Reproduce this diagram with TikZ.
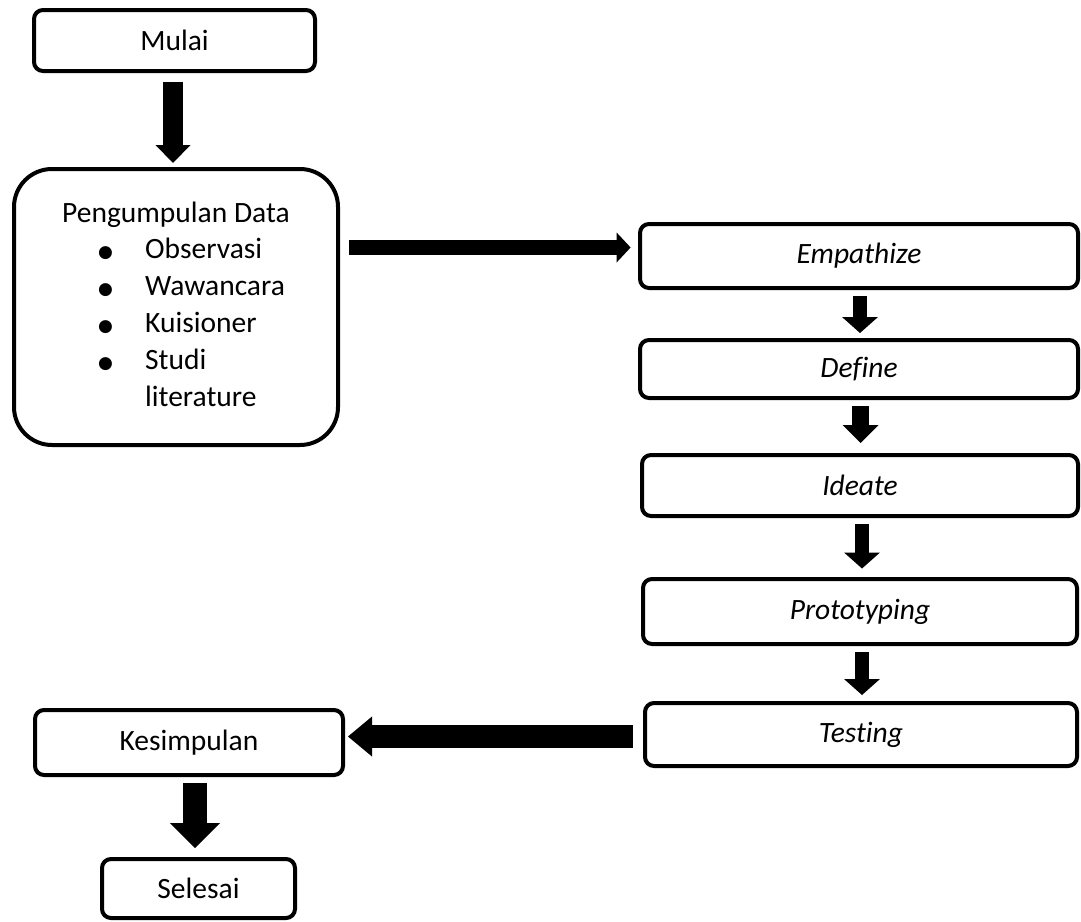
\documentclass[tikz,border=0pt]{standalone}
\usepackage{fontspec}
\setmainfont[Ligatures=NoCommon]{Carlito}
\newfontfamily\dejavu{DejaVu Sans}
\usetikzlibrary{arrows.meta,calc}
\newcommand{\blt}{\makebox[83pt][l]{\hspace{36pt}\raisebox{1.5pt}{\dejavu\fontsize{17}{17}\selectfont ●}}}
\begin{document}
\begin{tikzpicture}[x=1pt,y=-1pt,
  box/.style={draw, line width=4pt, rounded corners=9pt, inner sep=0pt, font=\fontsize{29.5}{34}\selectfont},
  ibox/.style={box, font=\fontsize{29.5}{34}\selectfont\itshape},
  blk/.style n args={3}{line width=#1, -{Triangle[width=#2, length=#3, line width=0pt]}}]
\useasboundingbox (0,0) rectangle (1081,921);
% left column
\node[box, minimum width=281pt, minimum height=61pt] (mulai) at (174.5,40.5) {Mulai};
\node[box, rounded corners=38pt, minimum width=324pt, minimum height=276pt] (peng) at (176,307) {};
\node[anchor=base west, inner sep=0pt, font=\fontsize{29.5}{36.9}\selectfont] (pengtxt) at (62,222)
  {\begin{tabular}[t]{@{}l@{}l@{}}
   \multicolumn{2}{@{}l@{}}{Pengumpulan Data}\\
   \blt & Observasi\\
   \blt & Wawancara\\
   \blt & Kuisioner\\
   \blt & Studi\\
        & literature
   \end{tabular}};
% right column
\node[ibox, minimum width=438pt, minimum height=64pt] (emp) at (859,256) {Empathize};
\node[ibox, minimum width=438pt, minimum height=58pt] (def) at (859,369) {Define};
\node[ibox, minimum width=436pt, minimum height=61pt] (ide) at (860,485.5) {Ideate};
\node[ibox, minimum width=434pt, minimum height=65pt] (pro) at (860,611.5) {Prototyping};
\node[ibox, minimum width=432pt, minimum height=63pt] (tes) at (861,734.5) {Testing};
% bottom left
\node[box, minimum width=308pt, minimum height=65pt] (kes) at (189,742.5) {Kesimpulan};
\node[box, minimum width=193pt, minimum height=59pt] (sel) at (198.5,888.5) {Selesai};
% arrows
\draw[blk={20pt}{35pt}{18pt}] ($(mulai.south)+(-1.5,9)$) -- ($(peng.north)+(-3,-4)$);
\draw[blk={15pt}{30pt}{14pt}] ($(peng.east)+(8.5,-59.5)$) -- ($(emp.west)+(-7.4,-8.5)$);
\draw[blk={14pt}{36pt}{16pt}] ($(emp.south)+(1,6)$) -- ($(def.north)+(1,-5)$);
\draw[blk={17pt}{36pt}{18pt}] ($(def.south)+(1.5,6)$) -- ($(ide.north)+(0.5,-10)$);
\draw[blk={14pt}{36pt}{16pt}] ($(ide.south)+(2,5.5)$) -- ($(pro.north)+(2,-8.5)$);
\draw[blk={14pt}{36pt}{16pt}] ($(pro.south)+(2,6)$) -- ($(tes.north)+(1,-6)$);
\draw[blk={23pt}{40pt}{24pt}] ($(tes.west)+(-10,2)$) -- ($(kes.east)+(3,-6)$);
\draw[blk={24pt}{50pt}{25pt}] ($(kes.south)+(6,6)$) -- ($(sel.north)+(-3.5,-9)$);
\end{tikzpicture}
\end{document}
